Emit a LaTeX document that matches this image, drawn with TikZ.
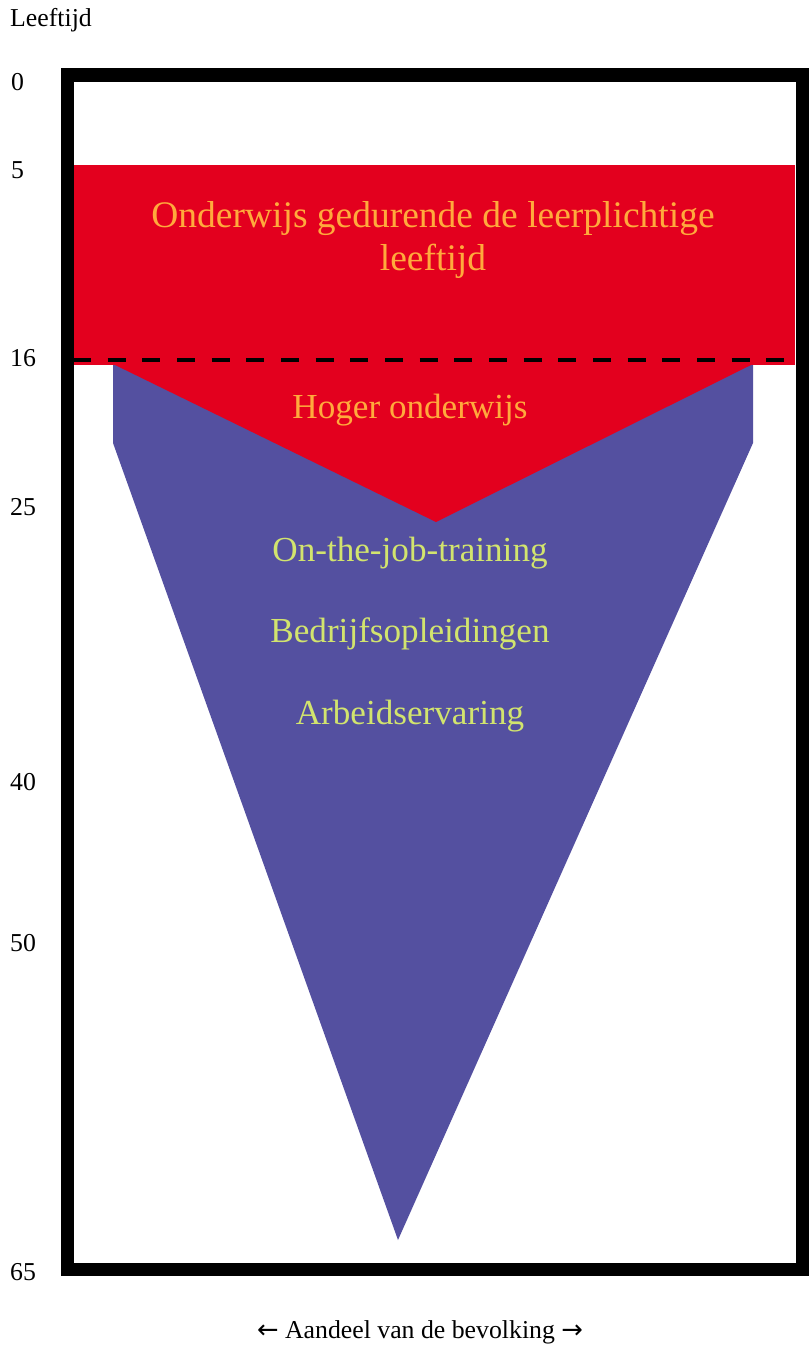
\documentclass[tikz,border=0pt]{standalone}
\usepackage{fontspec}
\setmainfont{Liberation Serif}
\newfontfamily\pijlfont{DejaVu Sans}
\definecolor{rood}{RGB}{227,0,30}
\definecolor{paars}{RGB}{84,80,160}
\definecolor{oranje}{RGB}{255,170,60}
\definecolor{geelgroen}{RGB}{210,228,110}

\begin{document}
\begin{tikzpicture}[x=0.03cm, y=-0.03cm,
		aslabel/.style={anchor=west, inner sep=0pt, font=\fontsize{22}{26}\selectfont},
		roodtekst/.style={align=center, inner sep=0pt, text=oranje, font=\fontsize{32}{37.5}\selectfont},
		paarstekst/.style={align=center, inner sep=0pt, text=geelgroen, font=\fontsize{30}{36}\selectfont}]
	\useasboundingbox (0,0) rectangle (810,1346);
	
	% leerplicht en de trechter
	\fill[rood] (73,165) rectangle (795,365);
	\fill[paars] (113,365) -- (753,365) -- (753,443) -- (398,1240) -- (113,443) -- cycle;
	\fill[rood] (113,364) -- (753,364) -- (436,522) -- cycle;
	\draw[line width=0.12cm, dash pattern=on 0.54cm off 0.5cm] (73,360) -- (795,360);
	\draw[line width=0.39cm] (67,75) rectangle (802,1269);
	
	\node (t1)[roodtekst] at (433,240) {
		Onderwijs gedurende de leerplichtige \\ leeftijd
	};
	\node (t2)[roodtekst, font=\fontsize{30}{36}\selectfont] at (410,410) {Hoger onderwijs};
	\node (t3)[paarstekst] at (410,553) {On-the-job-training};
	\node (t4)[paarstekst] at (410,634) {Bedrijfsopleidingen};
	\node (t5)[paarstekst] at (410,716) {Arbeidservaring};
	
	% leeftijden
	\node (a0)[aslabel] at (10,20) {Leeftijd};
	\node (l0)[aslabel] at (11,82) {0};
	\node (l5)[aslabel] at (11,170) {5};
	\node (l16)[aslabel] at (10,358) {16};
	\node (l25)[aslabel] at (10,507) {25};
	\node (l40)[aslabel] at (10,782) {40};
	\node (l50)[aslabel] at (10,943) {50};
	\node (l65)[aslabel] at (10,1272) {65};
	
	\node (a1)[aslabel, anchor=center] at (420,1332) {
		{\pijlfont ←} Aandeel van de bevolking {\pijlfont →}
	};
\end{tikzpicture}
\end{document}
